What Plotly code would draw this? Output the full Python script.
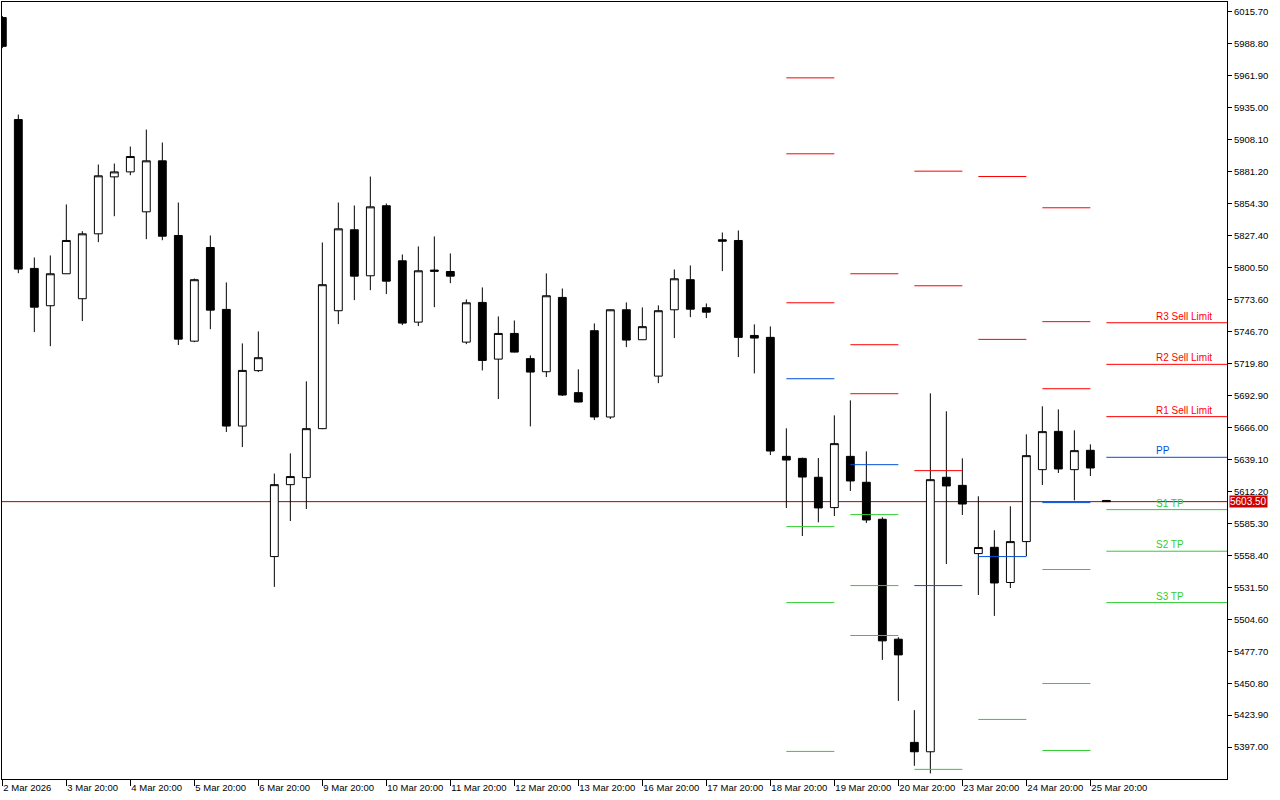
import plotly.graph_objects as go

# H6 candles, 2 Mar 2026 20:00 .. 26 Mar 2026
opens = [6010.7, 5924.9, 5799.7, 5768.3, 5795.2, 5774.2, 5828.8, 5876.7, 5880.9, 5847.3,
         5890.2, 5827.4, 5738.5, 5817.3, 5765.2, 5667.1, 5713.7, 5557.3, 5617.8, 5623.7,
         5664.9, 5764.1, 5832.2, 5793.5, 5852.4, 5806.1, 5754.5, 5798.3, 5797.1, 5737.7,
         5771.1, 5723.4, 5745.0, 5723.8, 5712.8, 5775.3, 5695.2, 5747.3, 5674.7, 5764.9,
         5739.7, 5709.1, 5764.9, 5790.2, 5766.6, 5823.8, 5823.2, 5743.3, 5741.7, 5641.6,
         5639.9, 5624.0, 5598.5, 5641.6, 5619.8, 5588.7, 5487.8, 5401.0, 5393.1, 5624.0,
         5617.2, 5559.8, 5565.1, 5535.5, 5569.9, 5630.4, 5662.6, 5630.4, 5646.7, 5604.5]
highs = [6012.0, 5929.1, 5808.9, 5810.6, 5853.5, 5831.0, 5887.1, 5887.9, 5902.2, 5916.5,
         5905.6, 5855.1, 5791.2, 5827.4, 5787.9, 5736.6, 5746.7, 5627.1, 5644.1, 5704.7,
         5821.5, 5855.1, 5852.6, 5877.0, 5854.3, 5811.4, 5818.2, 5826.6, 5812.3, 5773.6,
         5783.7, 5759.3, 5755.9, 5726.5, 5795.5, 5782.8, 5714.8, 5753.4, 5765.2, 5771.1,
         5766.9, 5768.6, 5798.8, 5802.2, 5770.2, 5829.9, 5831.6, 5752.6, 5750.9, 5665.2,
         5640.5, 5640.2, 5676.1, 5688.7, 5645.8, 5590.4, 5489.5, 5428.1, 5694.6, 5679.5,
         5639.9, 5608.0, 5579.4, 5599.6, 5660.1, 5683.7, 5681.1, 5663.5, 5651.7, 5604.5]
lows = [5985.0, 5795.7, 5746.1, 5734.3, 5795.0, 5755.4, 5821.8, 5843.6, 5878.1, 5824.3,
        5823.4, 5735.2, 5737.7, 5748.6, 5662.1, 5649.4, 5712.5, 5531.8, 5587.2, 5597.3,
        5664.5, 5752.8, 5773.0, 5781.4, 5778.1, 5752.0, 5751.2, 5767.1, 5787.3, 5736.0,
        5713.9, 5689.8, 5729.0, 5666.8, 5708.3, 5692.4, 5687.0, 5672.1, 5673.0, 5733.5,
        5739.5, 5703.2, 5741.1, 5758.7, 5757.9, 5797.4, 5725.1, 5711.4, 5642.7, 5598.2,
        5574.6, 5586.1, 5591.4, 5612.5, 5585.6, 5470.4, 5435.9, 5381.3, 5374.9, 5551.1,
        5592.3, 5525.0, 5507.4, 5530.9, 5557.6, 5617.5, 5627.6, 5604.6, 5625.1, 5603.5]
closes = [5986.5, 5799.1, 5767.1, 5795.2, 5823.2, 5828.8, 5877.6, 5880.9, 5893.8, 5890.2,
          5826.8, 5740.2, 5790.2, 5764.6, 5667.1, 5713.9, 5724.6, 5617.8, 5624.6, 5664.9,
          5786.0, 5833.0, 5793.2, 5851.5, 5789.0, 5753.7, 5797.7, 5797.3, 5793.2, 5770.8,
          5722.3, 5745.0, 5729.3, 5712.5, 5776.7, 5693.2, 5687.3, 5674.7, 5764.9, 5739.4,
          5750.7, 5764.1, 5791.0, 5765.4, 5762.9, 5822.6, 5741.7, 5741.1, 5646.1, 5638.5,
          5624.2, 5598.2, 5652.3, 5620.9, 5588.1, 5486.4, 5474.6, 5393.1, 5622.0, 5616.7,
          5601.5, 5564.9, 5535.1, 5569.9, 5642.2, 5662.4, 5631.0, 5646.4, 5631.8, 5603.5]
bars = list(range(len(opens)))

tick_bars = [0, 4, 8, 12, 16, 20, 24, 28, 32, 36, 40, 44, 48, 52, 56, 60, 64, 68]
tick_text = ['2 Mar 2026', '3 Mar 20:00', '4 Mar 20:00', '5 Mar 20:00', '6 Mar 20:00',
             '9 Mar 20:00', '10 Mar 20:00', '11 Mar 20:00', '12 Mar 20:00', '13 Mar 20:00',
             '16 Mar 20:00', '17 Mar 20:00', '18 Mar 20:00', '19 Mar 20:00', '20 Mar 20:00',
             '23 Mar 20:00', '24 Mar 20:00', '25 Mar 20:00']
price_ticks = [6015.70, 5988.80, 5961.90, 5935.00, 5908.10, 5881.20, 5854.30, 5827.40,
               5800.50, 5773.60, 5746.70, 5719.80, 5692.90, 5666.00, 5639.10, 5612.20,
               5585.30, 5558.40, 5531.50, 5504.60, 5477.70, 5450.80, 5423.90, 5397.00]

# daily pivot levels (segment from first to last bar of each day)
day_start = [49, 53, 57, 61, 65, 69]
day_end = [52, 56, 60, 64, 68, 77]
r3 = [5960.0, 5795.2, 5881.5, 6059.4, 5850.7, 5754.0]
r2 = [5896.1, 5735.5, 5785.1, 5877.0, 5754.9, 5719.0]
r1 = [5770.8, 5694.3, 5629.6, 5740.0, 5698.5, 5675.0]
pp = [5706.9, 5634.6, 5532.9, 5557.3, 5602.7, 5640.8]
s1 = [5582.5, 5592.6, 5378.3, 5420.3, 5546.4, 5596.8]
s2 = [5518.6, 5532.9, 5281.6, 5237.9, 5450.5, 5561.8]
s3 = [5393.4, 5490.9, 5126.9, 5100.9, 5394.2, 5518.6]
label_bar = 72
bid = 5603.50

RED = '#FF0000'
BLUE = '#0050DC'
GREEN = '#32CD32'

fig = go.Figure()

fig.add_trace(go.Candlestick(
    x=bars, open=opens, high=highs, low=lows, close=closes,
    increasing=dict(line=dict(color='black', width=1), fillcolor='white'),
    decreasing=dict(line=dict(color='black', width=1), fillcolor='black'),
    whiskerwidth=0, hoverinfo='skip', showlegend=False))

levels = [('R3 Sell Limit', r3, RED), ('R2 Sell Limit', r2, RED), ('R1 Sell Limit', r1, RED),
          ('PP', pp, BLUE),
          ('S1 TP', s1, GREEN), ('S2 TP', s2, GREEN), ('S3 TP', s3, GREEN)]
for name, vals, color in levels:
    xs, ys = [], []
    for s, e, v in zip(day_start, day_end, vals):
        xs += [s, e, None]
        ys += [v, v, None]
    fig.add_trace(go.Scatter(x=xs, y=ys, mode='lines', line=dict(color=color, width=1),
                             hoverinfo='skip', showlegend=False))
    fig.add_annotation(x=label_bar, y=vals[-1], text=name, showarrow=False,
                       xanchor='left', yanchor='bottom', yshift=-1,
                       font=dict(size=10, color=color))

# bid line + price label
fig.add_shape(type='line', xref='paper', x0=0, x1=1, y0=bid, y1=bid,
              line=dict(color='#B00000', width=1), layer='below')
fig.add_annotation(xref='paper', x=1, y=bid, text=f'{bid:.2f}', showarrow=False,
                   xanchor='left', xshift=2, bgcolor='#CC0000', borderpad=0,
                   font=dict(size=10, color='white'))

fig.update_layout(
    width=1280, height=800,
    margin=dict(l=2, r=53, t=2, b=21),
    paper_bgcolor='white', plot_bgcolor='white',
    font=dict(family='Liberation Sans, Arial, sans-serif', size=9.5, color='black'),
    showlegend=False, boxgap=0.3,
)
fig.update_xaxes(range=[-0.02, 76.54], tickvals=tick_bars, ticktext=tick_text,
                 ticks='outside', ticklen=6, tickcolor='black', tickwidth=1,
                 ticklabelposition='outside right', tickangle=0,
                 showgrid=False, zeroline=False, showline=True, linecolor='black',
                 linewidth=1, mirror=True, rangeslider_visible=False, automargin=False)
fig.update_yaxes(range=[5370.2, 6023.8], side='right', tickvals=price_ticks, tickformat='.2f',
                 ticks='outside', ticklen=4, tickcolor='black', tickwidth=1,
                 showgrid=False, zeroline=False, showline=True, linecolor='black',
                 linewidth=1, mirror=True, automargin=False)

fig.write_html("out.html", config={'displayModeBar': False},
               post_script="document.body.style.margin='0';")
